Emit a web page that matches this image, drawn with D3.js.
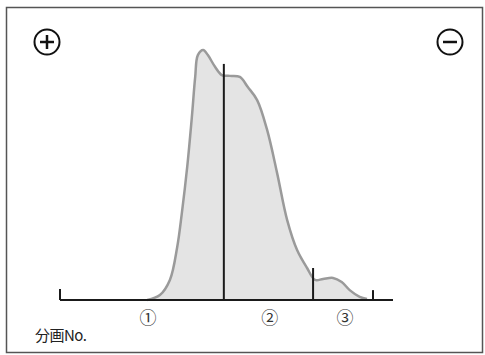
<!DOCTYPE html>
<html>
<head>
<meta charset="utf-8">
<script src="https://cdn.jsdelivr.net/npm/d3@7"></script>
<style>
  body { margin: 0; background: #fff; }
  svg { display: block; font-family: "Noto Sans CJK JP", "Noto Sans", sans-serif; }
</style>
</head>
<body>
<div id="chart"></div>
<script>
// 分画位置 (x) と吸光度 (y)
const fractionX = [13.1, 15.0, 16.5, 17.6, 18.3, 19.1, 19.8, 20.3, 20.7, 21.5, 22.2, 23.3, 24.3, 25.5, 27.0, 28.2, 29.6, 31.1, 32.6, 34.1, 35.6, 37.1, 38.3, 39.5, 41.0, 42.3, 43.5, 45.0, 46.1];
const absorbance = [0, 1.9, 7.7, 20.4, 33.5, 51.2, 70.4, 85.8, 94.2, 96.2, 94.2, 89.6, 86.5, 86.2, 85.8, 81.9, 76.9, 65.4, 48.8, 30.8, 19.2, 12.3, 7.7, 8.1, 8.5, 6.9, 3.8, 1.2, 0.4];

// 区切り線
const dividerX = [24.6, 38.0];
const dividerTop = [90.8, 12.3];
const endTicksX = [0, 47.0];
const endTickTop = [4.2, 3.8];

// 分画ラベル
const labelText = ["①", "②", "③"];
const labelX = [13.2, 31.5, 42.8];

const polarity = ["+", "-"];

const width = 485;
const height = 355;

const svg = d3.select("#chart").append("svg")
  .attr("width", width)
  .attr("height", height);

// 枠
svg.append("rect")
  .attr("x", 6.5).attr("y", 7.5)
  .attr("width", 476).attr("height", 345)
  .attr("fill", "none")
  .attr("stroke", "#555")
  .attr("stroke-width", 1.5);

const x = d3.scaleLinear().domain([0, 50]).range([60, 393]);
const y = d3.scaleLinear().domain([0, 100]).range([300, 40]);

const points = fractionX.map((d, i) => ({ x: d, y: absorbance[i] }));

const area = d3.area()
  .x(d => x(d.x))
  .y0(y(0))
  .y1(d => y(d.y))
  .curve(d3.curveCatmullRom);

const line = d3.line()
  .x(d => x(d.x))
  .y(d => y(d.y))
  .curve(d3.curveCatmullRom);

svg.append("path")
  .datum(points)
  .attr("d", area)
  .attr("fill", "#e4e4e4");

svg.append("path")
  .datum(points)
  .attr("d", line)
  .attr("fill", "none")
  .attr("stroke", "#9a9a9a")
  .attr("stroke-width", 2.5)
  .attr("stroke-linejoin", "round");

// 横軸
svg.append("line")
  .attr("x1", x(0)).attr("x2", x(50))
  .attr("y1", y(0)).attr("y2", y(0))
  .attr("stroke", "#1a1a1a")
  .attr("stroke-width", 2);

svg.selectAll(".endtick")
  .data(endTicksX)
  .enter().append("line")
  .attr("x1", d => x(d)).attr("x2", d => x(d))
  .attr("y1", y(0)).attr("y2", (d, i) => y(endTickTop[i]))
  .attr("stroke", "#1a1a1a")
  .attr("stroke-width", 2);

svg.selectAll(".divider")
  .data(dividerX)
  .enter().append("line")
  .attr("x1", d => x(d)).attr("x2", d => x(d))
  .attr("y1", y(0)).attr("y2", (d, i) => y(dividerTop[i]))
  .attr("stroke", "#1a1a1a")
  .attr("stroke-width", 2);

svg.selectAll(".flabel")
  .data(labelText)
  .enter().append("text")
  .attr("x", (d, i) => x(labelX[i]))
  .attr("y", 324)
  .attr("text-anchor", "middle")
  .attr("font-size", 17)
  .attr("fill", "#333")
  .text(d => d);

svg.append("text")
  .attr("x", 35).attr("y", 341)
  .attr("font-size", 15)
  .attr("fill", "#222")
  .attr("letter-spacing", -0.5)
  .text("分画No.");

// ＋ / − 記号
const signs = svg.selectAll(".sign")
  .data(polarity)
  .enter().append("g")
  .attr("transform", (d, i) => `translate(${i === 0 ? 47 : 450},42)`);

signs.append("circle")
  .attr("r", 12.5)
  .attr("fill", "none")
  .attr("stroke", "#111")
  .attr("stroke-width", 2);

signs.append("line")
  .attr("x1", -7).attr("x2", 7)
  .attr("y1", 0).attr("y2", 0)
  .attr("stroke", "#111")
  .attr("stroke-width", 2.5);

signs.filter(d => d === "+").append("line")
  .attr("x1", 0).attr("x2", 0)
  .attr("y1", -7).attr("y2", 7)
  .attr("stroke", "#111")
  .attr("stroke-width", 2.5);
</script>
</body>
</html>
